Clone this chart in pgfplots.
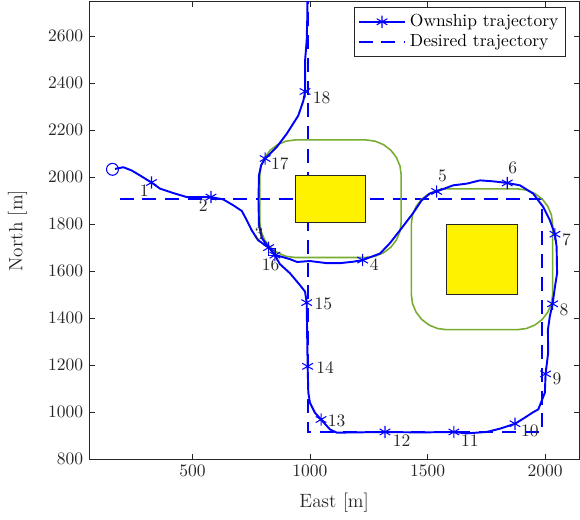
\documentclass[border=0pt]{standalone}
\usepackage{pgfplots}
\pgfplotsset{compat=1.18}
\definecolor{axgray}{rgb}{0.15,0.15,0.15}
\definecolor{zonegreen}{rgb}{0.466,0.674,0.188}
\begin{document}
\begin{tikzpicture}
\begin{axis}[
  scale only axis, width=279.7pt, height=261.3pt,
  xmin=62, xmax=2144, ymin=800, ymax=2745,
  xtick={500,1000,1500,2000}, ytick={800,1000,...,2600},
  tick align=inside, major tick length=3pt,
  /pgf/number format/1000 sep={},
  axis line style={axgray, line width=0.5pt},
  tick style={axgray, line width=0.5pt},
  ticklabel style={text=axgray, font=\fontsize{10}{12}\selectfont},
  xlabel={East [m]}, ylabel={North [m]},
  label style={text=axgray, font=\fontsize{11}{13}\selectfont},
  xlabel style={at={(axis description cs:0.5,-0.094)}, anchor=center},
  ylabel style={at={(axis description cs:-0.147,0.5)}, anchor=center},
  legend style={at={(axis description cs:0.973,0.989)}, anchor=north east,
    draw=axgray, fill=white, font=\fontsize{10}{12}\selectfont, text=black,
    row sep=-1pt, inner sep=2pt, cells={anchor=west}},
  legend image code/.code={\draw[mark repeat=2,mark phase=2,#1] plot coordinates {(0cm,0cm) (0.47cm,0cm) (0.94cm,0cm)};},
]
\addlegendimage{blue, line width=1.1pt, mark=asterisk, mark size=3.5pt, mark options={line width=0.6pt}}
\addlegendentry{Ownship trajectory}
\addlegendimage{blue, line width=1.1pt, dash pattern=on 8pt off 5pt}
\addlegendentry{Desired trajectory}

% desired trajectory
\addplot[blue, line width=1.1pt, dash pattern=on 8pt off 5pt, forget plot]
  coordinates {(190,1907)(1988,1907)(1988,914)(990,914)(990,2800)};

% obstacles
\addplot[fill=yellow, draw=axgray, line width=0.6pt, forget plot]
  coordinates {(937,1808)(1238,1808)(1238,2008)(937,2008)} -- cycle;
\addplot[fill=yellow, draw=axgray, line width=0.6pt, forget plot]
  coordinates {(1581,1501)(1882,1501)(1882,1800)(1581,1800)} -- cycle;

% safety zones
\addplot[zonegreen, line width=0.9pt, forget plot] coordinates {
(1388,2008)(1382.9,2046.8)(1367.9,2083)(1344.1,2114.1)(1313,2137.9)(1276.8,2152.9)(1238,2158)
(937,2158)(898.2,2152.9)(862,2137.9)(830.9,2114.1)(807.1,2083)(792.1,2046.8)(787,2008)
(787,1808)(792.1,1769.2)(807.1,1733)(830.9,1701.9)(862,1678.1)(898.2,1663.1)(937,1658)
(1238,1658)(1276.8,1663.1)(1313,1678.1)(1344.1,1701.9)(1367.9,1733)(1382.9,1769.2)(1388,1808)
} -- cycle;
\addplot[zonegreen, line width=0.9pt, forget plot] coordinates {
(2032,1800)(2026.9,1838.8)(2011.9,1875)(1988.1,1906.1)(1957,1929.9)(1920.8,1944.9)(1882,1950)
(1581,1950)(1542.2,1944.9)(1506,1929.9)(1474.9,1906.1)(1451.1,1875)(1436.1,1838.8)(1431,1800)
(1431,1501)(1436.1,1462.2)(1451.1,1426)(1474.9,1394.9)(1506,1371.1)(1542.2,1356.1)(1581,1351)
(1882,1351)(1920.8,1356.1)(1957,1371.1)(1988.1,1394.9)(2011.9,1426)(2026.9,1462.2)(2032,1501)
} -- cycle;

% ownship trajectory
\addplot[blue, line width=1.1pt, line join=round, forget plot] coordinates {
(171,2035)(206,2042)(242,2028)(277,2007)(326,1977)(362,1951)(419,1932)(476,1915)(532,1915)(579,1915)
(631,1905)(674,1880)(710,1856)(731,1817)(752,1774)(779,1732)(824,1700)(855,1668)(915,1651)(945,1639)
(1000,1643)(1071,1634)(1128,1634)(1183,1640)(1224,1647)(1298,1675)(1340,1719)(1383,1774)(1438,1846)
(1475,1901)(1510,1930)(1539,1939)(1609,1965)(1666,1972)(1723,1986)(1779,1982)(1839,1975)(1893,1965)
(1949,1930)(1992,1873)(2020,1817)(2042,1757)(2049,1703)(2051,1591)(2042,1534)(2032,1461)(2020,1407)
(2012,1351)(2013,1252)(2002,1163)(1999,1083)(1971,1012)(1949,1000)(1914,977)(1872,951)(1808,930)
(1751,916)(1666,910)(1612,916)(1468,914)(1319,916)(1114,913)(1085,927)(1047,969)(1021,998)(1000,1040)
(993,1083)(990,1195)(986,1466)(979,1513)(957,1541)(915,1591)(872,1630)(851,1668)(821,1706)(796,1740)
(783,1795)(781,1901)(783,2007)(792,2050)(809,2079)(858,2127)(901,2184)(950,2261)(972,2325)(979,2364)
(979,2494)(986,2579)(989,2693)(989,2760)
};
\addplot[only marks, blue, mark=asterisk, mark size=3.5pt, mark options={line width=0.6pt}, forget plot] coordinates {
(326,1977)(579,1915)(824,1700)(1224,1647)(1539,1939)(1839,1975)(2042,1757)(2032,1461)(2002,1163)
(1872,951)(1612,916)(1319,916)(1047,969)(990,1195)(986,1466)(851,1668)(809,2079)(979,2364)
};
\addplot[only marks, blue, mark=o, mark size=3.4pt, mark options={line width=0.6pt}, forget plot] coordinates {(160,2033)};
\addplot[only marks, blue, mark=square, mark size=2pt, mark options={line width=0.5pt}, forget plot] coordinates {(838,1681)};

% labels
\begin{scope}[every node/.style={text=axgray, font=\fontsize{10}{12}\selectfont, inner sep=0pt}]
\node at (axis cs:295.5,1943.6) {1};
\node at (axis cs:546,1880) {2};
\node at (axis cs:783,1760) {3};
\node at (axis cs:1273,1626) {4};
\node at (axis cs:1564,2007) {5};
\node at (axis cs:1862,2040) {6};
\node at (axis cs:2091,1732) {7};
\node at (axis cs:2080,1435) {8};
\node at (axis cs:2051,1142) {9};
\node at (axis cs:1935,920) {10};
\node at (axis cs:1680,880) {11};
\node at (axis cs:1390,877.5) {12};
\node at (axis cs:1113.5,962) {13};
\node at (axis cs:1064,1188) {14};
\node at (axis cs:1057,1461) {15};
\node at (axis cs:833,1626) {16};
\node at (axis cs:872,2057) {17};
\node at (axis cs:1050,2339) {18};
\end{scope}
\end{axis}
\path (current axis.south west) ++(-51.1pt,-34.7pt) rectangle ++(331.4pt,297.1pt);
\end{tikzpicture}
\end{document}
